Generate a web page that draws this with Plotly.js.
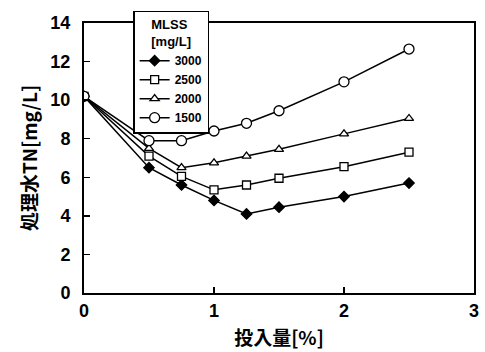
<!DOCTYPE html>
<html>
<head>
<meta charset="utf-8">
<script src="https://cdn.plot.ly/plotly-3.0.1.min.js"></script>
<style>html,body{margin:0;padding:0;background:#fff}#chart{width:485px;height:352px}</style>
</head>
<body>
<div id="chart"></div>
<script>
const doses = [0, 0.5, 0.75, 1, 1.25, 1.5, 2, 2.5];
const seriesNames = ["3000", "2500", "2000", "1500"];
const tn3000 = [10.2, 6.5, 5.6, 4.8, 4.1, 4.45, 5.0, 5.7];
const tn2500 = [10.2, 7.1, 6.05, 5.35, 5.6, 5.95, 6.55, 7.3];
const tn2000 = [10.2, 7.5, 6.5, 6.75, 7.1, 7.45, 8.25, 9.05];
const tn1500 = [10.2, 7.9, 7.9, 8.4, 8.8, 9.45, 10.95, 12.65];
const xTicks = [0, 1, 2, 3];
const yTicks = [0, 2, 4, 6, 8, 10, 12, 14];

const jp = '"Liberation Sans", Arial, "Noto Sans CJK JP", sans-serif';
const values = [tn3000, tn2500, tn2000, tn1500];
const symbols = ["diamond", "square", "triangle-up", "circle"];
const fills = ["black", "white", "white", "white"];
const sizes = [8, 8, 8, 10];

const traces = values.map((v, i) => ({
  x: doses, y: v, name: seriesNames[i], type: "scatter", mode: "lines+markers",
  line: {color: "black", width: 1.5},
  marker: {symbol: symbols[i], size: sizes[i], color: fills[i], line: {color: "black", width: 1.3}}
}));

const layout = {
  width: 485, height: 352,
  margin: {l: 84, r: 11, t: 16, b: 59},
  paper_bgcolor: "white", plot_bgcolor: "white",
  font: {family: jp, color: "black", size: 16},
  showlegend: true,
  legend: {
    x: 0.126, y: 1.045, xanchor: "left", yanchor: "top",
    bgcolor: "white", bordercolor: "black", borderwidth: 1.5,
    font: {family: jp, size: 12, weight: "bold"},
    title: {text: "MLSS<br>[mg/L]", side: "top center", font: {family: jp, size: 13, weight: "bold"}},
    tracegroupgap: 0, itemwidth: 30
  },
  xaxis: {
    range: [0, 3], tickvals: xTicks, ticktext: xTicks.map(String),
    ticks: "inside", ticklen: 6, tickwidth: 1.5, tickcolor: "black",
    showline: true, linewidth: 2, linecolor: "black", mirror: true,
    showgrid: false, zeroline: false,
    tickfont: {family: jp, size: 18, weight: "bold"},
    title: {text: "投入量[%]", font: {family: '"Noto Sans CJK JP", sans-serif', size: 19, weight: "bold"}, standoff: 12}
  },
  yaxis: {
    range: [0, 14], tickvals: yTicks, ticktext: yTicks.map(String),
    ticks: "inside", ticklen: 6, tickwidth: 1.5, tickcolor: "black",
    ticklabelstandoff: 8,
    showline: true, linewidth: 2, linecolor: "black", mirror: true,
    showgrid: false, zeroline: false,
    tickfont: {family: jp, size: 18, weight: "bold"},
    title: {text: "処理水TN[mg/L]", font: {family: '"Noto Sans CJK JP", sans-serif', size: 19, weight: "bold"}, standoff: 8}
  }
};

Plotly.newPlot("chart", traces, layout, {displayModeBar: false, staticPlot: true});
</script>
</body>
</html>
